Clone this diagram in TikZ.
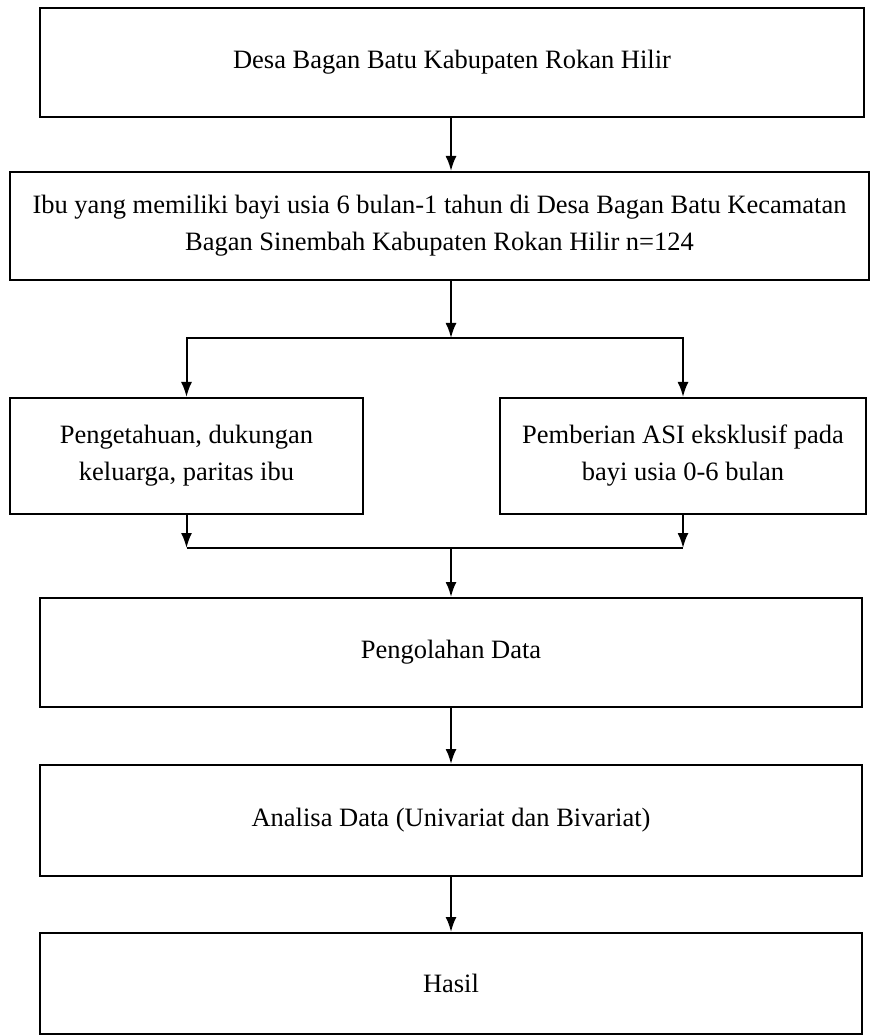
\documentclass[tikz,border=0pt]{standalone}
\usepackage{fontspec}
\setmainfont{Liberation Serif}
\usetikzlibrary{arrows.meta}
\tikzset{>={Latex[length=7.5pt,width=5.5pt]}}
\tikzset{
  kotak/.style={draw, line width=1pt, align=center, inner sep=0pt,
    font=\fontsize{13.25}{18.5}\selectfont},
  panah/.style={->, line width=1pt}
}

\begin{document}
\begin{tikzpicture}[x=0.5pt, y=-0.5pt]
            \useasboundingbox (0,0) rectangle (871,1036);
            \node[kotak, minimum width=412pt, minimum height=54.5pt] (desa) at (452,62.5) {Desa Bagan Batu Kabupaten Rokan Hilir};
            \node[kotak, minimum width=429.5pt, minimum height=54pt] (ibu) at (439.5,226) {Ibu yang memiliki bayi usia 6 bulan-1 tahun di Desa Bagan Batu Kecamatan\\Bagan Sinembah Kabupaten Rokan Hilir n=124};
            \node[kotak, minimum width=176.5pt, minimum height=58pt] (tahu) at (186.5,456) {Pengetahuan, dukungan\\keluarga, paritas ibu};
            \node[kotak, minimum width=183pt, minimum height=58pt] (asi) at (683,456) {Pemberian ASI eksklusif pada\\bayi usia 0-6 bulan};
            \node[kotak, minimum width=411pt, minimum height=54.5pt] (olah) at (451,652.5) {Pengolahan Data};
            \node[kotak, minimum width=411pt, minimum height=55.5pt] (analisa) at (451,820.5) {Analisa Data (Univariat dan Bivariat)};
            \node[kotak, minimum width=411pt, minimum height=50.5pt] (hasil) at (451,983.5) {Hasil};
            \coordinate (cabang) at (451,338);
            \coordinate (gabung) at (451,548);
            \draw[panah] (desa.south -| cabang) -- (ibu.north -| cabang);
            \draw[panah] (ibu.south -| cabang) -- (cabang);
            \draw[panah] (cabang) -| (tahu.north);
            \draw[panah] (cabang) -| (asi.north);
            \draw[panah] (tahu.south) -- (tahu.south |- gabung);
            \draw[panah] (asi.south) -- (asi.south |- gabung);
            \draw[line width=1pt] (tahu.south |- gabung) -- (asi.south |- gabung);
            \draw[panah] (gabung) -- (olah.north -| gabung);
            \draw[panah] (olah.south -| gabung) -- (analisa.north -| gabung);
            \draw[panah] (analisa.south -| gabung) -- (hasil.north -| gabung);
        \end{tikzpicture}
\end{document}
